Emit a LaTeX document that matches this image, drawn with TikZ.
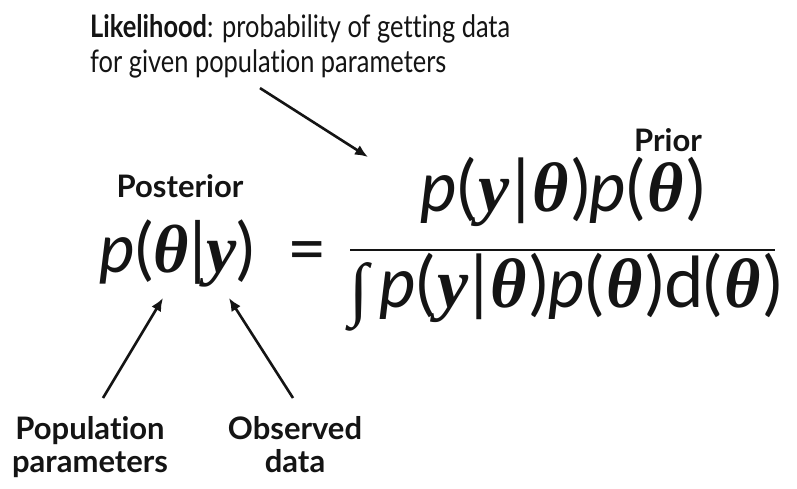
\documentclass[tikz,border=0pt]{standalone}
\usepackage{amsmath,amssymb}
\usepackage{fontspec}
\setmainfont{Lato}[Ligatures={NoCommon}]
\newfontfamily\greekserif{Liberation Serif}
\newfontfamily\notefont{Lato}[FakeStretch=0.82, Ligatures={NoCommon}]
\newfontfamily\formulafont{Lato}
\usepackage{xcolor}
\usetikzlibrary{arrows.meta,positioning}
\definecolor{ink}{RGB}{20,20,20}
\newlength{\fgap}
\setlength{\fgap}{0pt}
\newcommand{\thb}{\kern\fgap{\greekserif\bfseries\itshape θ}\kern\fgap}
\newcommand{\yv}{\kern\fgap{\greekserif\bfseries\itshape y}\kern\fgap}
\newcommand{\pv}{{\itshape p}}
\newcommand{\intsign}{\raisebox{-5pt}{\greekserif ∫}\hspace{10pt}}
\tikzset{
  tag/.style={font=\fontsize{31}{33}\selectfont\bfseries, text=ink, align=center, inner sep=0pt},
  note/.style={font=\notefont\fontsize{31}{35}\selectfont, text=ink, align=left, inner sep=0pt},
  formula/.style={font=\formulafont\fontsize{68}{74}\selectfont, text=ink, inner sep=0pt},
  fracpart/.style={formula, font=\formulafont\fontsize{70}{74}\selectfont\setlength{\fgap}{2.5pt}},
  pointer/.style={-{Latex[length=13pt,width=11pt]}, line width=2.6pt, draw=ink}
}

\begin{document}
\begin{tikzpicture}[x=1pt,y=-1pt]
    \useasboundingbox[fill=white] (0,0) rectangle (797,488);
    % Formula
    \node[formula, anchor=base] (post) at (177,272) {\pv(\thb|\yv)};
    \node[formula, anchor=base] (equals) at (307,272) {=};
    \node[fracpart, anchor=base] (num) at (563,211) {\pv(\yv|\thb)\pv(\thb)};
    \node[fracpart, anchor=base] (den) at (566,307) {\intsign\pv(\yv|\thb)\pv(\thb)d(\thb)};
    \draw[line width=2.5pt, ink] (350,250) -- (775,250);
    % Labels
    \node[tag, anchor=base] (posterior) at (180,197) {Posterior};
    \node[tag, anchor=base] (prior) at (668,151) {Prior};
    \node[note, anchor=north west] (lik) at (90,14) {\textbf{Likelihood}: probability of getting data\\for given population parameters};
    \node[tag, anchor=north] (pop) at (90,416) {Population\\parameters};
    \node[tag, anchor=north] (obs) at (295,416) {Observed\\data};
    % Arrows
    \coordinate (likeTip) at (368,157);
    \coordinate (thetaTip) at (163,298);
    \coordinate (yTip) at (229,298);
    \draw[pointer] (lik.south west -| likeTip) ++(-108pt,-10pt) -- (likeTip);
    \draw[pointer] ([xshift=13pt,yshift=18pt]pop.north) -- (thetaTip);
    \draw[pointer] ([xshift=-2pt,yshift=18pt]obs.north) -- (yTip);
\end{tikzpicture}
\end{document}
